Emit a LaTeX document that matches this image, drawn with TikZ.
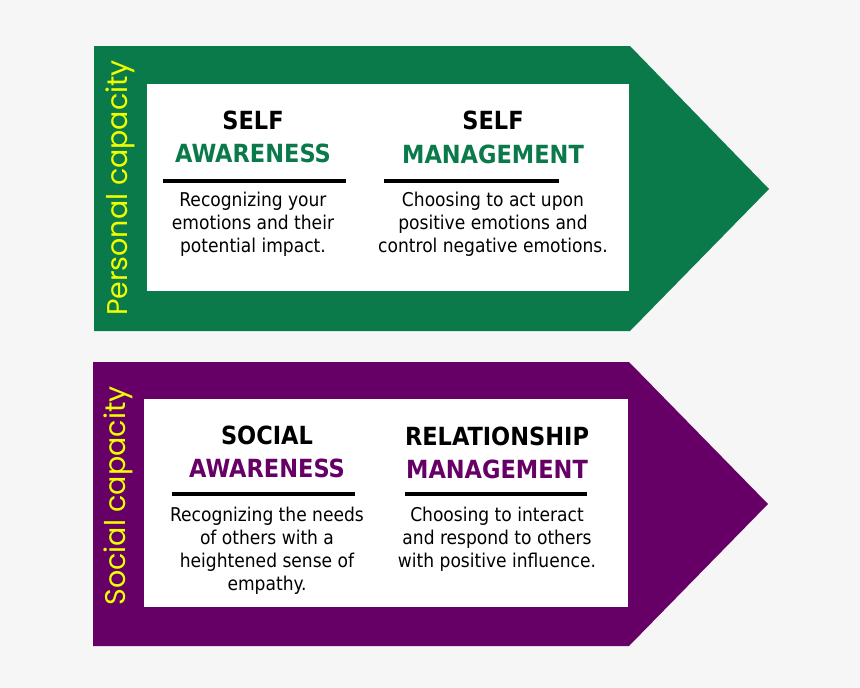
\documentclass[tikz,border=0pt]{standalone}
\usepackage{fontspec}
\setmainfont{DejaVu Sans Condensed}
\newfontfamily\geo{Poppins}
\definecolor{bg}{HTML}{F6F6F6}
\definecolor{grn}{HTML}{0A7A4B}
\definecolor{pur}{HTML}{660066}
\definecolor{yel}{HTML}{F0FF00}
\tikzset{
  title/.style={inner sep=0pt, font=\bfseries\fontsize{25}{30}\selectfont},
  body/.style={inner sep=0pt, align=center, font=\fontsize{19}{23}\selectfont},
  rule/.style={line width=3.5pt},
  side/.style={inner sep=0pt, rotate=90, text=yel, font=\geo\fontsize{28.5}{32}\selectfont},
  panel/.style={fill=white}
}
\begin{document}
\begin{tikzpicture}[x=1pt,y=-1pt]
\useasboundingbox[fill=bg] (0,0) rectangle (860,688);
% green arrow
\fill[grn] (94,46) -- (630,46) -- (769,189) -- (630,331) -- (94,331) -- cycle;
\fill[panel] (147,84) rectangle (629,291);
\node[side] (s1) at (120,188) {Personal capacity};
\node[title] (a1) at (253,120) {SELF};
\node[title, text=grn] (a2) at (253,153) {AWARENESS};
\draw[rule] (163,181) -- (346,181);
\node[body] (a3) at (253,224) {Recognizing your\\emotions and their\\potential impact.};
\node[title] (b1) at (493,120) {SELF};
\node[title, text=grn] (b2) at (493,154) {MANAGEMENT};
\draw[rule] (384,181) -- (559,181);
\node[body] (b3) at (493,224) {Choosing to act upon\\positive emotions and\\control negative emotions.};
% purple arrow
\fill[pur] (93,362) -- (629,362) -- (768,504) -- (629,646) -- (93,646) -- cycle;
\fill[panel] (144,399) rectangle (628,607);
\node[side] (s2) at (118,496) {Social capacity};
\node[title] (c1) at (267,435) {SOCIAL};
\node[title, text=pur] (c2) at (267,468) {AWARENESS};
\draw[rule] (172,494) -- (355,494);
\node[body] (c3) at (267,550.5) {Recognizing the needs\\of others with a\\heightened sense of\\empathy.};
\node[title] (d1) at (497,436) {RELATIONSHIP};
\node[title, text=pur] (d2) at (497,469) {MANAGEMENT};
\draw[rule] (405,494) -- (587,494);
\node[body] (d3) at (497,539) {Choosing to interact\\and respond to others\\with positive influence.};
\end{tikzpicture}
\end{document}
